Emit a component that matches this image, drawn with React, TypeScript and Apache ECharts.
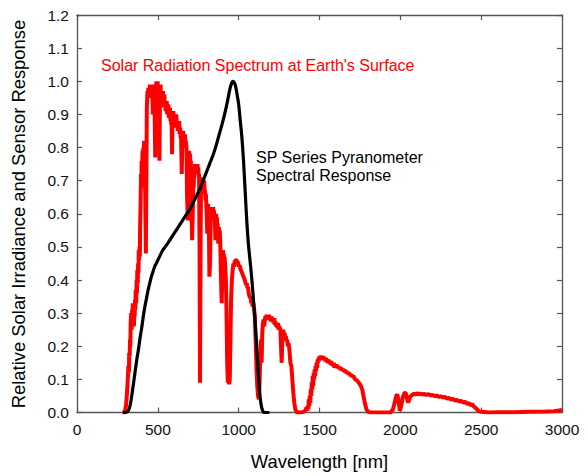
import React, { useEffect, useRef } from "react";
import * as echarts from "echarts";

// [wavelength nm, relative irradiance] — solar spectrum at Earth's surface
const solarUV: [number, number][] = [
  [280, 0], [290, 0], [297, 0.005], [303, 0.02], [308, 0.05], [313, 0.09], [318, 0.14], [321, 0.12], [323, 0.18],
  [326, 0.17], [328, 0.22], [330, 0.2], [332, 0.27], [335, 0.3], [338, 0.25], [341, 0.31], [343, 0.28], [345, 0.33],
  [349, 0.3], [352, 0.26], [355, 0.31], [357, 0.29], [359, 0.34], [361, 0.31], [363, 0.37], [366, 0.33], [369, 0.4],
  [371, 0.36], [373, 0.43], [376, 0.39], [378, 0.45], [380, 0.42], [382, 0.49], [384, 0.46], [387, 0.5], [389, 0.47],
  [390, 0.55], [393, 0.62], [396, 0.72], [398, 0.68], [400, 0.76], [403, 0.73], [405, 0.79], [408, 0.76], [410, 0.8],
  [413, 0.77], [415, 0.82], [418, 0.79], [420, 0.78], [423, 0.6], [426, 0.48], [429, 0.7], [432, 0.92],
];
const solarVisible: [number, number][] = [
  [436, 0.97], [439, 0.95], [441, 0.98], [444, 0.96], [446, 0.975], [449, 0.95], [451, 0.99], [454, 0.97], [456, 0.985],
  [459, 0.96], [461, 0.99], [464, 0.97], [466, 0.975], [469, 0.9], [472, 0.97], [474, 0.99], [477, 0.97], [479, 0.99],
  [481, 0.88], [484, 0.77], [487, 0.93], [489, 0.98], [491, 1.0], [493, 0.97], [495, 0.99], [497, 0.97], [499, 1.0],
  [501, 0.96], [503, 0.98], [505, 0.95], [507, 0.96], [510, 0.76], [513, 0.94], [515, 0.97], [517, 0.99], [519, 0.95],
  [522, 0.97], [524, 0.94], [527, 0.96], [529, 0.93], [532, 0.97], [534, 0.94], [536, 0.95], [539, 0.92], [541, 0.96],
  [543, 0.92], [546, 0.93], [548, 0.91], [550, 0.94], [553, 0.91], [555, 0.94], [558, 0.9], [560, 0.92], [563, 0.9],
  [565, 0.93], [568, 0.89], [570, 0.91], [573, 0.89], [575, 0.92], [578, 0.88], [580, 0.9], [583, 0.87], [585, 0.88],
  [588, 0.78], [591, 0.9], [594, 0.88], [596, 0.91], [599, 0.88], [602, 0.9], [605, 0.87], [608, 0.89], [611, 0.86],
  [614, 0.9], [617, 0.86], [620, 0.88], [623, 0.85], [626, 0.87], [629, 0.85], [632, 0.88], [635, 0.84], [638, 0.86],
  [641, 0.83], [643, 0.85], [648, 0.72], [652, 0.84], [655, 0.82], [657, 0.85], [660, 0.81], [663, 0.83], [666, 0.8],
  [668, 0.84], [671, 0.8], [673, 0.82], [677, 0.8], [681, 0.65], [686, 0.58], [690, 0.7], [692, 0.77], [694, 0.79],
  [697, 0.76], [699, 0.78], [702, 0.75], [704, 0.76], [708, 0.62], [712, 0.52], [716, 0.6], [720, 0.7], [722, 0.68],
  [725, 0.74], [728, 0.72], [730, 0.75], [733, 0.72], [735, 0.74], [738, 0.72], [740, 0.75], [743, 0.73], [745, 0.75],
  [748, 0.73], [750, 0.74], [753, 0.71], [755, 0.72], [758, 0.5], [761, 0.09], [764, 0.45], [767, 0.7], [770, 0.68],
  [772, 0.71], [775, 0.69], [777, 0.7], [780, 0.68], [782, 0.69], [785, 0.67], [787, 0.7], [790, 0.66], [792, 0.67],
  [795, 0.64], [797, 0.66], [802, 0.6], [806, 0.54], [810, 0.63], [813, 0.6], [815, 0.61], [819, 0.41], [823, 0.45],
  [827, 0.58], [830, 0.6], [832, 0.62], [835, 0.59], [837, 0.61], [840, 0.59], [842, 0.62], [845, 0.6], [847, 0.61],
  [850, 0.58], [852, 0.6], [856, 0.52], [860, 0.6], [863, 0.57], [865, 0.59], [868, 0.56], [870, 0.57], [874, 0.51],
  [878, 0.56], [880, 0.53], [883, 0.55], [887, 0.5], [891, 0.4], [895, 0.33], [899, 0.42], [903, 0.49], [906, 0.46],
  [908, 0.48], [911, 0.45], [913, 0.47], [917, 0.44], [921, 0.4], [925, 0.3], [929, 0.15], [933, 0.09], [937, 0.12],
  [941, 0.085], [945, 0.1],
];
const solarNearIR: [number, number][] = [
  [949, 0.22], [953, 0.34], [958, 0.4], [963, 0.43], [968, 0.45], [972, 0.44], [975, 0.455], [982, 0.46], [988, 0.46],
  [992, 0.45], [995, 0.455], [1002, 0.44], [1006, 0.445], [1010, 0.435], [1014, 0.43], [1018, 0.43], [1022, 0.42],
  [1026, 0.42], [1030, 0.41], [1034, 0.41], [1038, 0.4], [1042, 0.4], [1046, 0.385], [1050, 0.39], [1054, 0.375],
  [1058, 0.38], [1062, 0.36], [1066, 0.36], [1070, 0.345], [1074, 0.35], [1078, 0.33], [1082, 0.34], [1086, 0.32],
  [1090, 0.33], [1096, 0.31], [1100, 0.29], [1105, 0.22], [1110, 0.14], [1115, 0.08], [1120, 0.05], [1125, 0.04],
  [1130, 0.1], [1134, 0.18], [1138, 0.22], [1142, 0.15], [1146, 0.24], [1150, 0.27], [1155, 0.28], [1158, 0.26],
  [1160, 0.27], [1163, 0.285], [1166, 0.29], [1169, 0.28], [1172, 0.295], [1176, 0.285], [1180, 0.29], [1184, 0.28],
  [1188, 0.295], [1192, 0.28], [1196, 0.285], [1200, 0.275], [1204, 0.29], [1208, 0.275], [1212, 0.28], [1216, 0.27],
  [1220, 0.285], [1224, 0.265], [1228, 0.275], [1232, 0.26], [1236, 0.27], [1240, 0.255], [1244, 0.27], [1248, 0.25],
  [1252, 0.26], [1258, 0.25], [1262, 0.2], [1266, 0.15], [1270, 0.22], [1276, 0.25], [1280, 0.235], [1284, 0.24],
  [1288, 0.225], [1292, 0.23], [1296, 0.215], [1300, 0.22], [1304, 0.2], [1308, 0.21], [1314, 0.19], [1320, 0.15],
  [1326, 0.14], [1332, 0.1], [1338, 0.06], [1344, 0.03], [1350, 0.01], [1360, 0], [1380, 0], [1400, 0.002],
  [1410, 0.005], [1420, 0.015], [1424, 0.005], [1428, 0.02], [1431, 0.01], [1434, 0.04], [1437, 0.02], [1440, 0.05],
  [1443, 0.03], [1446, 0.07], [1449, 0.05], [1452, 0.09], [1455, 0.07], [1458, 0.11], [1461, 0.08], [1464, 0.12],
  [1467, 0.1], [1470, 0.13], [1473, 0.11], [1476, 0.14], [1479, 0.125], [1482, 0.15], [1485, 0.135], [1488, 0.16],
  [1491, 0.15], [1494, 0.165], [1497, 0.155], [1500, 0.17], [1504, 0.16], [1508, 0.172], [1512, 0.162], [1516, 0.17],
  [1520, 0.16], [1524, 0.17], [1528, 0.158], [1532, 0.166], [1536, 0.155], [1540, 0.165], [1544, 0.152], [1548, 0.16],
  [1552, 0.15], [1556, 0.16], [1560, 0.148], [1564, 0.156], [1568, 0.145], [1572, 0.155], [1576, 0.142], [1580, 0.15],
  [1584, 0.14], [1588, 0.15], [1592, 0.135], [1596, 0.145], [1600, 0.138], [1605, 0.145], [1610, 0.134], [1615, 0.14],
  [1620, 0.132], [1625, 0.138], [1630, 0.128], [1635, 0.135], [1640, 0.126], [1645, 0.132], [1650, 0.124],
  [1655, 0.13], [1660, 0.12], [1665, 0.126], [1670, 0.117], [1675, 0.123], [1680, 0.114], [1685, 0.12], [1690, 0.11],
  [1695, 0.116], [1700, 0.108], [1710, 0.11], [1720, 0.1], [1730, 0.098], [1740, 0.092], [1750, 0.085], [1758, 0.078],
  [1765, 0.068], [1772, 0.05], [1780, 0.03], [1790, 0.01], [1800, 0.002], [1820, 0],
];
const solarFarIR: [number, number][] = [
  [1900, 0], [1940, 0], [1955, 0.01], [1965, 0.03], [1975, 0.05], [1982, 0.055], [1990, 0.03], [1997, 0.005],
  [2005, 0.02], [2015, 0.045], [2025, 0.058], [2033, 0.06], [2040, 0.045], [2048, 0.03], [2055, 0.04], [2065, 0.05],
  [2075, 0.054], [2085, 0.057], [2095, 0.054], [2105, 0.058], [2115, 0.055], [2125, 0.057], [2135, 0.054],
  [2145, 0.056], [2160, 0.053], [2175, 0.055], [2190, 0.051], [2200, 0.053], [2215, 0.049], [2225, 0.051],
  [2240, 0.047], [2250, 0.049], [2265, 0.045], [2275, 0.047], [2290, 0.042], [2300, 0.044], [2315, 0.039],
  [2325, 0.041], [2340, 0.036], [2350, 0.038], [2365, 0.033], [2375, 0.035], [2390, 0.03], [2400, 0.032],
  [2415, 0.026], [2425, 0.028], [2435, 0.022], [2445, 0.025], [2455, 0.018], [2465, 0.014], [2475, 0.009],
  [2485, 0.004], [2500, 0.002], [2550, 0], [2600, 0.001], [2700, 0.001], [2800, 0.002], [2900, 0.003], [2950, 0.004],
  [2980, 0.006], [3000, 0.008],
];

// [wavelength nm, relative response] — pyranometer spectral response
const sensorResponse: [number, number][] = [
  [285, 0], [300, 0], [310, 0.002], [320, 0.008], [330, 0.025], [340, 0.055], [350, 0.09], [360, 0.125], [370, 0.16],
  [380, 0.19], [390, 0.225], [400, 0.255], [410, 0.29], [420, 0.32], [430, 0.345], [440, 0.37], [450, 0.39],
  [460, 0.41], [470, 0.425], [480, 0.44], [490, 0.45], [500, 0.46], [515, 0.475], [530, 0.49], [545, 0.5], [560, 0.51],
  [580, 0.525], [600, 0.54], [620, 0.555], [640, 0.57], [660, 0.585], [680, 0.6], [700, 0.615], [720, 0.635],
  [740, 0.655], [760, 0.675], [780, 0.7], [800, 0.725], [820, 0.75], [840, 0.775], [860, 0.805], [880, 0.84],
  [900, 0.875], [920, 0.915], [935, 0.95], [945, 0.975], [955, 0.992], [963, 1.0], [970, 0.998], [978, 0.99],
  [985, 0.975], [992, 0.955], [1000, 0.93], [1010, 0.88], [1020, 0.83], [1030, 0.76], [1040, 0.67], [1050, 0.58],
  [1060, 0.51], [1070, 0.46], [1080, 0.41], [1090, 0.35], [1100, 0.285], [1110, 0.21], [1120, 0.13], [1130, 0.06],
  [1140, 0.02], [1150, 0.004], [1160, 0], [1190, 0],
];

const xTicks = { min: 0, max: 3000, interval: 500 };
const yTicks = { min: 0, max: 1.2, interval: 0.1 };

const solarLabel = "Solar Radiation Spectrum at Earth's Surface";
const sensorLabel = "SP Series Pyranometer\nSpectral Response";
const xName = "Wavelength [nm]";
const yName = "Relative Solar Irradiance and Sensor Response";

const FONT = "'Liberation Sans', Arial, Helvetica, sans-serif";

export default function App() {
  const ref = useRef<HTMLDivElement>(null);
  useEffect(() => {
    if (!ref.current) return;
    const chart = echarts.init(ref.current, undefined, { renderer: "svg" });
    const axisLine = { show: true, onZero: false, lineStyle: { color: "#555", width: 1.3 } };
    const axisTick = { show: true, inside: true, length: 5, lineStyle: { color: "#555", width: 1.2 } };
    const solarData = [...solarUV, ...solarVisible, ...solarNearIR, ...solarFarIR];
    chart.setOption({
      animation: false,
      backgroundColor: "#fff",
      grid: { left: 77, right: 26, top: 15, bottom: 63.5, containLabel: false },
      xAxis: [
        {
          type: "value", position: "bottom", ...xTicks,
          axisLine, axisTick, splitLine: { show: false },
          axisLabel: {
            color: "#111", fontSize: 15.5, fontFamily: FONT, margin: 9,
            formatter: (v: number) => String(v),
          },
        },
        {
          type: "value", position: "top", ...xTicks,
          axisLine, axisTick, splitLine: { show: false }, axisLabel: { show: false },
        },
      ],
      yAxis: [
        {
          type: "value", position: "left", ...yTicks,
          axisLine, axisTick, splitLine: { show: false },
          axisLabel: {
            color: "#111", fontSize: 15.5, fontFamily: FONT, margin: 8,
            formatter: (v: number) => v.toFixed(1),
          },
        },
        {
          type: "value", position: "right", ...yTicks,
          axisLine, axisTick, splitLine: { show: false }, axisLabel: { show: false },
        },
      ],
      series: [
        {
          type: "line", xAxisIndex: 0, yAxisIndex: 0, data: solarData, showSymbol: false,
          lineStyle: { color: "#ff0000", width: 4 }, z: 2,
        },
        {
          type: "line", xAxisIndex: 0, yAxisIndex: 0, data: sensorResponse, showSymbol: false, smooth: 0.3,
          lineStyle: { color: "#000", width: 3.2 }, z: 3,
        },
      ],
      graphic: [
        {
          type: "text", left: 101, top: 57,
          style: { text: solarLabel, fill: "#ff0000", font: `16px ${FONT}` },
        },
        {
          type: "text", left: 256, top: 149,
          style: { text: sensorLabel, fill: "#000", font: `16px ${FONT}`, lineHeight: 17.7 },
        },
        {
          type: "text", x: 319.5, y: 461, style: {
            text: xName, fill: "#000", font: `18.4px ${FONT}`, align: "center", verticalAlign: "middle",
          },
        },
        {
          type: "text", x: 18, y: 214, rotation: Math.PI / 2, style: {
            text: yName, fill: "#000", font: `18.4px ${FONT}`, align: "center", verticalAlign: "middle",
          },
        },
      ],
    });
    return () => chart.dispose();
  }, []);
  return <div ref={ref} style={{ position: "fixed", left: 0, top: 0, width: 588, height: 476 }} />;
}
